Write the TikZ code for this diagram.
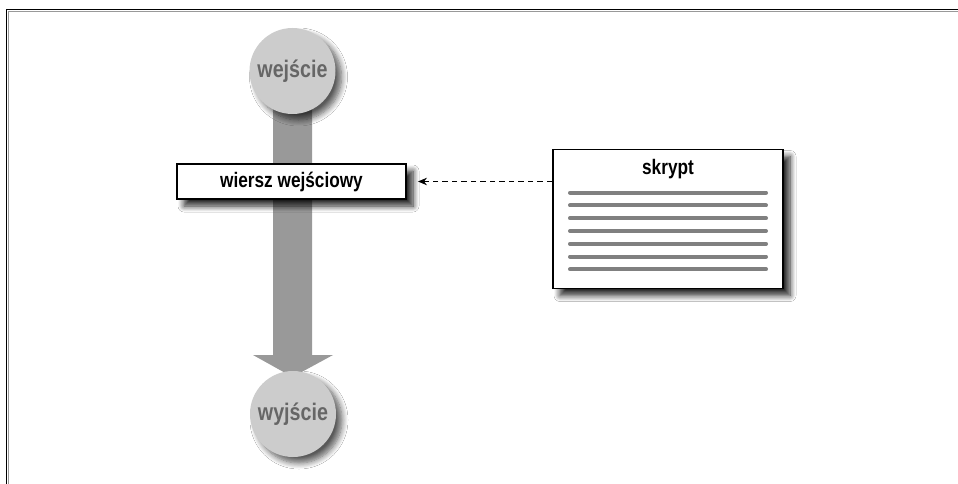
\documentclass[tikz,border=0pt]{standalone}
\usepackage{fontspec}
\newfontfamily\lcond[FakeStretch=0.82]{Liberation Sans}
\usetikzlibrary{calc,arrows.meta,shadows.blur}
\definecolor{circfill}{HTML}{CCCCCC}
\definecolor{circtext}{HTML}{666666}
\definecolor{shaftc}{HTML}{999999}
\definecolor{linec}{HTML}{808080}
\tikzset{
  io/.style={circle, fill=circfill, minimum size=86pt, inner sep=0pt,
    text=circtext, font=\lcond\bfseries\fontsize{24}{26}\selectfont,
    blur shadow={shadow xshift=6pt, shadow yshift=-6pt, shadow blur steps=8, shadow blur radius=6pt, shadow opacity=65}},
  boxnode/.style={draw=black, line width=1.9pt, fill=white, inner sep=0pt,
    font=\lcond\bfseries\fontsize{21}{23}\selectfont,
    blur shadow={shadow xshift=7pt, shadow yshift=-7pt, shadow blur steps=8, shadow blur radius=6pt, shadow opacity=85}},
  txtline/.style={line width=4pt, line cap=round, draw=linec},
  conn/.style={dashed, dash pattern=on 5.5pt off 4pt, line width=1.1pt, -{Stealth[length=9pt,width=7.5pt]}},
}
\begin{document}
\begin{tikzpicture}[x=1pt,y=-1pt]
\useasboundingbox (0,0) rectangle (958,484);
\fill[white] (0,0) rectangle (958,484);
% frame
\draw[black!40, line width=0.8pt] (8.2,484) -- (8.2,11.2) -- (958,11.2);
\draw[black, line width=1.6pt] (6.5,484) -- (6.5,9.5) -- (958,9.5);
% positions
\coordinate (inc) at (292.5,71);
\coordinate (outc) at (293,414);
% big arrow shaft
\fill[shaftc] ($(inc)+(-19.5,20)$) -- ($(inc)+(-19.5,284)$) -- ($(inc)+(-39.5,284)$)
  -- ($(inc)+(0,306)$) -- ($(inc)+(40.5,284)$) -- ($(inc)+(19.5,284)$) -- ($(inc)+(19.5,20)$) -- cycle;
% circles
\node[io] (in) at (inc) {wejście};
\node[io] (out) at (outc) {wyjście};
% input line box
\node[boxnode, minimum width=229pt, minimum height=35pt] (box) at (291.5,181.5) {wiersz wejściowy};
% script box
\node[boxnode, minimum width=230pt, minimum height=139pt] (scr) at (668,219) {};
\node[font=\lcond\bfseries\fontsize{21}{23}\selectfont, inner sep=0pt] (title) at ($(scr.north)+(0,21)$) {skrypt};
\foreach \i in {0,...,6}{
  \draw[txtline] ($(scr.center)+(-98,-26.3+12.77*\i)$) -- ($(scr.center)+(98,-26.3+12.77*\i)$);
}
% dashed connector
\draw[conn] (box.east -| scr.west) -- ($(box.east)+(11,0)$);
\end{tikzpicture}
\end{document}
